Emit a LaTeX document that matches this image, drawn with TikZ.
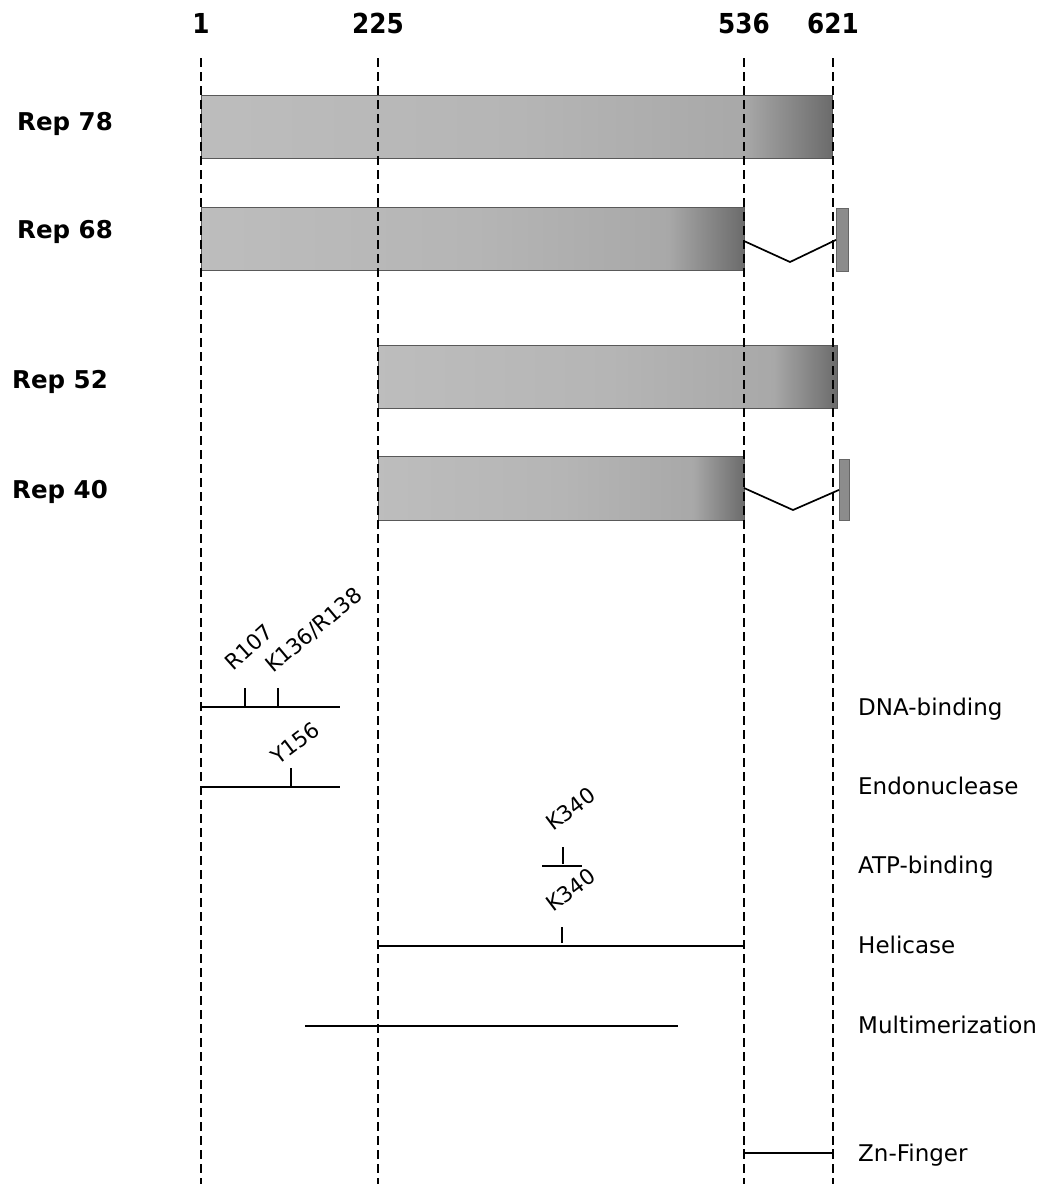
\documentclass[tikz,border=0pt]{standalone}
\usepackage{fontspec}
\setmainfont{DejaVu Sans}
\newfontfamily\numfont[FakeStretch=0.9]{DejaVu Sans}
\pgfdeclarehorizontalshading{barshade}{100bp}{rgb(0bp)=(0.74,0.74,0.74); rgb(25bp)=(0.74,0.74,0.74); rgb(50bp)=(0.71,0.71,0.71); rgb(68bp)=(0.66,0.66,0.66); rgb(75bp)=(0.42,0.42,0.42); rgb(100bp)=(0.42,0.42,0.42)}
\tikzset{
  guide/.style={line width=2.3, dash pattern=on 9pt off 5pt},
  bar/.style={draw=black!65, line width=0.8, shading=barshade, inner sep=0, anchor=north west},
  stub/.style={draw=black!60, fill=black!45, line width=0.8, inner sep=0, anchor=north west},
  posnum/.style={font=\numfont\bfseries\fontsize{27.5}{30}\selectfont, anchor=base, inner sep=0},
  replabel/.style={font=\bfseries\fontsize{24.5}{28}\selectfont, anchor=base west, inner sep=0},
  domlabel/.style={font=\fontsize{23}{27}\selectfont, anchor=base west, inner sep=0},
  mutlabel/.style={font=\fontsize{21.5}{25}\selectfont, anchor=base west, inner sep=0},
  dom/.style={line width=1.9},
  tick/.style={line width=1.9},
  splice/.style={line width=1.7}
}
\begin{document}
\begin{tikzpicture}[x=1pt,y=-1pt]
\useasboundingbox (0,0) rectangle (1042,1184);
% position numbers
\node[posnum] (n1) at (201,33) {1};
\node[posnum] (n225) at (378,33) {225};
\node[posnum] (n536) at (744,33) {536};
\node[posnum] (n621) at (833,33) {621};
% bars
\node[bar, minimum width=631, minimum height=63] (r78) at (201,95) {};
\node[bar, minimum width=543, minimum height=63] (r68) at (201,207) {};
\node[stub, minimum width=12, minimum height=63] (r68s) at (836,208) {};
\node[bar, minimum width=459, minimum height=63] (r52) at (378,345) {};
\node[bar, minimum width=366, minimum height=64] (r40) at (378,456) {};
\node[stub, minimum width=10, minimum height=61] (r40s) at (839,459) {};
% splice connectors
\coordinate (v68) at (790,262);
\coordinate (v40) at (793,510);
\draw[splice] (744,241) -- (v68) -- (r68s.west);
\draw[splice] (744,488) -- (v40) -- (r40s.west);
% guide lines
\foreach \xx/\nm in {201/a,378/b,744/c,833/d}{
  \coordinate (gt\nm) at (\xx,58);
  \coordinate (gb\nm) at (\xx,1184);
  \draw[guide] (gt\nm) -- (gb\nm);
}
% rep labels
\node[replabel] (l78) at (17,130) {Rep 78};
\node[replabel] (l68) at (17,238) {Rep 68};
\node[replabel] (l52) at (12,388) {Rep 52};
\node[replabel] (l40) at (12,498) {Rep 40};
% domain lines
\coordinate (dna1) at (201,707); \coordinate (dna2) at (340,707);
\draw[dom] (dna1) -- (dna2);
\coordinate (t107a) at (245,707); \coordinate (t107b) at (245,688);
\draw[tick] (t107a) -- (t107b);
\coordinate (t136a) at (278,707); \coordinate (t136b) at (278,688);
\draw[tick] (t136a) -- (t136b);
\node[mutlabel, rotate=42] (m107) at (233,672) {R107};
\node[mutlabel, rotate=40] (m136) at (273,674) {K136/R138};

\coordinate (endo1) at (201,787); \coordinate (endo2) at (340,787);
\draw[dom] (endo1) -- (endo2);
\coordinate (t156a) at (291,787); \coordinate (t156b) at (291,768);
\draw[tick] (t156a) -- (t156b);
\node[mutlabel, rotate=37] (m156) at (278,766) {Y156};

\coordinate (atp1) at (542,866); \coordinate (atp2) at (582,866);
\draw[dom] (atp1) -- (atp2);
\coordinate (tatpa) at (563,864); \coordinate (tatpb) at (563,847);
\draw[tick] (tatpa) -- (tatpb);
\node[mutlabel, rotate=37] (matp) at (553,832) {K340};

\coordinate (hel1) at (378,946); \coordinate (hel2) at (744,946);
\draw[dom] (hel1) -- (hel2);
\coordinate (thela) at (562,943); \coordinate (thelb) at (562,927);
\draw[tick] (thela) -- (thelb);
\node[mutlabel, rotate=37] (mhel) at (553,913) {K340};

\coordinate (mul1) at (305,1026); \coordinate (mul2) at (678,1026);
\draw[dom] (mul1) -- (mul2);

\coordinate (zn1) at (744,1153); \coordinate (zn2) at (833,1153);
\draw[dom] (zn1) -- (zn2);
\draw[line width=1.2] ([yshift=-4pt]zn1) -- ([yshift=4pt]zn1);
\draw[line width=1.2] ([yshift=-4pt]zn2) -- ([yshift=4pt]zn2);
% domain labels
\node[domlabel] (ddna) at (858,715) {DNA-binding};
\node[domlabel] (dendo) at (858,794) {Endonuclease};
\node[domlabel] (datp) at (858,873) {ATP-binding};
\node[domlabel] (dhel) at (858,953) {Helicase};
\node[domlabel] (dmul) at (858,1033) {Multimerization};
\node[domlabel] (dzn) at (858,1161) {Zn-Finger};
\end{tikzpicture}
\end{document}
